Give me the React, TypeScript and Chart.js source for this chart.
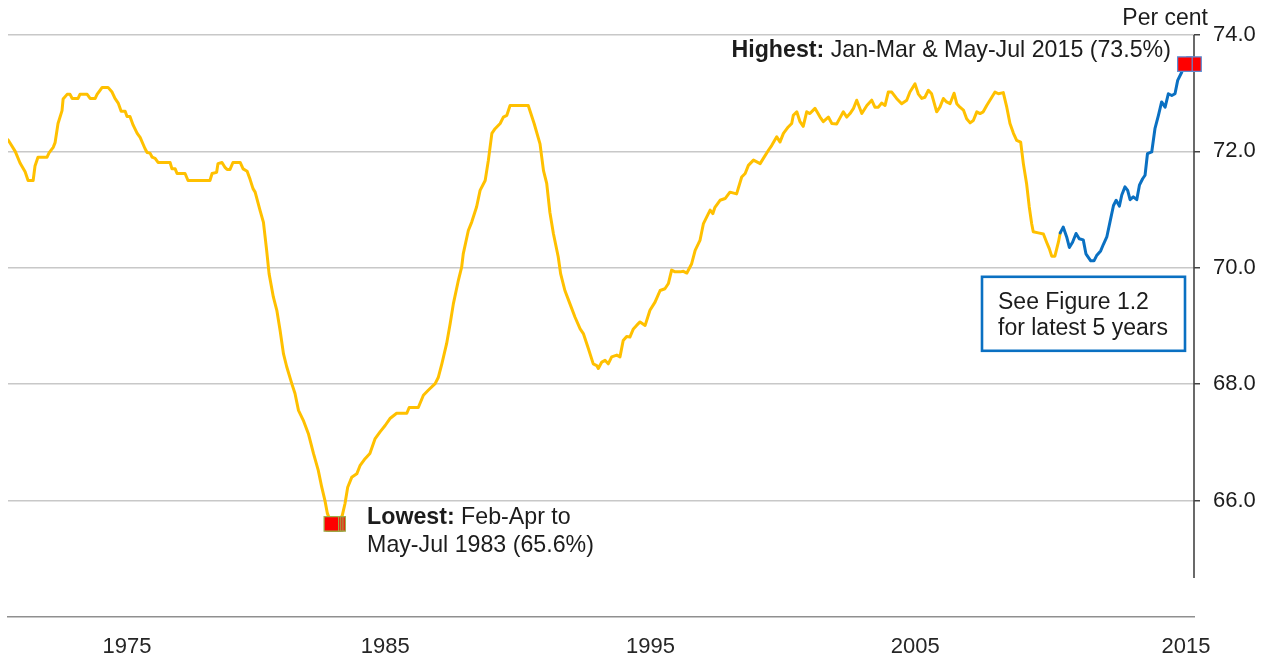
import React, { useEffect, useRef } from 'react';
import { Chart, registerables } from 'chart.js';

Chart.register(...registerables);

// Time is the central month of each rolling 3-month period, as a decimal year
// (Jan-Mar 1971 -> 1971.08, May-Jul 2015 -> 2015.42). Values: employment rate, per cent.
const yellowT = [
  1971.08, 1971.35, 1971.53, 1971.72, 1971.83, 1972.02, 1972.09, 1972.2, 1972.54, 1972.62,
  1972.77, 1972.84, 1972.95, 1973.1, 1973.14, 1973.29, 1973.4, 1973.48, 1973.7, 1973.77,
  1974.04, 1974.15, 1974.34, 1974.41, 1974.52, 1974.6, 1974.82, 1974.97, 1975.08, 1975.2,
  1975.31, 1975.46, 1975.53, 1975.64, 1975.76, 1975.91, 1976.02, 1976.2, 1976.28, 1976.39,
  1976.47, 1976.58, 1976.69, 1977.14, 1977.21, 1977.33, 1977.4, 1977.7, 1977.81, 1978.63,
  1978.71, 1978.88, 1978.93, 1979.08, 1979.2, 1979.27, 1979.38, 1979.49, 1979.76, 1979.87,
  1980.02, 1980.13, 1980.24, 1980.32, 1980.5, 1980.63, 1980.75, 1980.84, 1981.0, 1981.13,
  1981.25, 1981.38, 1981.5, 1981.69, 1981.81, 1981.94, 1982.12, 1982.31, 1982.5, 1982.68,
  1982.81, 1982.93, 1983.02, 1983.17, 1983.25, 1983.33, 1983.42, 1983.58, 1983.68, 1983.78,
  1983.93, 1984.12, 1984.24, 1984.43, 1984.61, 1984.8, 1984.99, 1985.18, 1985.36, 1985.61,
  1985.99, 1986.08, 1986.42, 1986.61, 1986.8, 1987.05, 1987.17, 1987.3, 1987.48, 1987.61,
  1987.73, 1987.92, 1988.04, 1988.1, 1988.29, 1988.42, 1988.6, 1988.73, 1988.92, 1989.04,
  1989.17, 1989.29, 1989.48, 1989.6, 1989.73, 1989.85, 1990.53, 1990.75, 1990.97, 1991.1,
  1991.22, 1991.34, 1991.47, 1991.65, 1991.74, 1991.9, 1992.09, 1992.28, 1992.47, 1992.59,
  1992.78, 1992.96, 1993.09, 1993.15, 1993.28, 1993.4, 1993.52, 1993.65, 1993.84, 1993.96,
  1994.08, 1994.21, 1994.33, 1994.46, 1994.58, 1994.71, 1994.9, 1995.08, 1995.27, 1995.46,
  1995.64, 1995.77, 1995.89, 1996.02, 1996.21, 1996.33, 1996.46, 1996.64, 1996.77, 1996.95,
  1997.08, 1997.2, 1997.33, 1997.43, 1997.51, 1997.7, 1997.89, 1998.07, 1998.32, 1998.51,
  1998.64, 1998.76, 1998.95, 1999.2, 1999.32, 1999.51, 1999.63, 1999.82, 1999.94, 2000.07,
  2000.25, 2000.38, 2000.44, 2000.57, 2000.69, 2000.81, 2000.94, 2001.06, 2001.25, 2001.44,
  2001.56, 2001.75, 2001.88, 2002.06, 2002.19, 2002.31, 2002.44, 2002.56, 2002.69, 2002.81,
  2003.0, 2003.19, 2003.37, 2003.49, 2003.62, 2003.74, 2003.87, 2003.99, 2004.12, 2004.3,
  2004.49, 2004.68, 2004.8, 2004.99, 2005.11, 2005.24, 2005.36, 2005.49, 2005.61, 2005.8,
  2005.92, 2006.05, 2006.17, 2006.3, 2006.45, 2006.55, 2006.67, 2006.8, 2006.92, 2007.05,
  2007.17, 2007.3, 2007.42, 2007.54, 2007.67, 2007.86, 2007.98, 2008.11, 2008.29, 2008.42,
  2008.54, 2008.67, 2008.79, 2008.94, 2009.04, 2009.16, 2009.26, 2009.35, 2009.41, 2009.6,
  2009.79, 2009.91, 2010.01, 2010.1, 2010.22, 2010.35, 2010.42,
];
const yellowV = [
  72.2, 72.0, 71.8, 71.65, 71.5, 71.5, 71.75, 71.9, 71.9, 71.98,
  72.07, 72.15, 72.48, 72.7, 72.9, 72.98, 72.98, 72.91, 72.91, 72.98,
  72.98, 72.91, 72.91, 72.98, 73.05, 73.1, 73.1, 73.02, 72.91, 72.83,
  72.69, 72.69, 72.6, 72.6, 72.45, 72.31, 72.24, 72.05, 71.98, 71.97,
  71.9, 71.88, 71.81, 71.81, 71.7, 71.7, 71.62, 71.62, 71.5, 71.5,
  71.62, 71.64, 71.79, 71.81, 71.72, 71.69, 71.69, 71.81, 71.81, 71.7,
  71.66, 71.52, 71.36, 71.3, 70.99, 70.78, 70.3, 69.9, 69.5, 69.27,
  68.93, 68.52, 68.3, 68.01, 67.84, 67.55, 67.38, 67.15, 66.81, 66.52,
  66.23, 66.0, 65.78, 65.6, 65.6, 65.6, 65.6, 65.75, 65.95, 66.23,
  66.4, 66.46, 66.6, 66.72, 66.81, 67.06, 67.18, 67.29, 67.41, 67.5,
  67.5, 67.6, 67.6, 67.81, 67.9, 68.01, 68.12, 68.35, 68.7, 69.04,
  69.38, 69.79, 70.01, 70.24, 70.64, 70.79, 71.05, 71.33, 71.5, 71.85,
  72.31, 72.39, 72.48, 72.59, 72.62, 72.79, 72.79, 72.48, 72.13, 71.67,
  71.45, 70.95, 70.59, 70.19, 69.9, 69.61, 69.38, 69.15, 68.95, 68.87,
  68.61, 68.35, 68.32, 68.27, 68.38, 68.41, 68.35, 68.47, 68.5, 68.47,
  68.75, 68.82, 68.81, 68.95, 69.01, 69.07, 69.01, 69.27, 69.41, 69.61,
  69.64, 69.73, 69.96, 69.93, 69.93, 69.94, 69.91, 70.07, 70.3, 70.47,
  70.76, 70.87, 70.99, 70.93, 71.04, 71.16, 71.19, 71.3, 71.27, 71.56,
  71.62, 71.76, 71.85, 71.79, 71.88, 72.02, 72.1, 72.25, 72.16, 72.31,
  72.42, 72.48, 72.62, 72.68, 72.51, 72.43, 72.68, 72.65, 72.74, 72.59,
  72.51, 72.59, 72.48, 72.47, 72.58, 72.68, 72.59, 72.65, 72.74, 72.88,
  72.65, 72.79, 72.88, 72.76, 72.76, 72.83, 72.79, 73.02, 73.02, 72.91,
  72.82, 72.88, 73.02, 73.16, 72.99, 72.91, 72.93, 73.05, 72.99, 72.68,
  72.76, 72.91, 72.85, 72.82, 73.0, 72.82, 72.76, 72.71, 72.56, 72.49,
  72.53, 72.68, 72.65, 72.68, 72.79, 72.93, 73.02, 72.99, 73.01, 72.76,
  72.48, 72.31, 72.19, 72.16, 71.79, 71.45, 71.05, 70.76, 70.62, 70.6,
  70.58, 70.44, 70.33, 70.2, 70.2, 70.44, 70.6,
];

// Latest 5 years (May-Jul 2010 to May-Jul 2015)
const blueT = [
  2010.42, 2010.53, 2010.66, 2010.76, 2010.88, 2011.01, 2011.13, 2011.28, 2011.38, 2011.56,
  2011.68, 2011.78, 2011.93, 2012.03, 2012.16, 2012.28, 2012.41, 2012.51, 2012.63, 2012.72,
  2012.84, 2012.94, 2013.03, 2013.15, 2013.28, 2013.38, 2013.5, 2013.59, 2013.68, 2013.84,
  2013.96, 2014.09, 2014.21, 2014.34, 2014.46, 2014.59, 2014.71, 2014.81, 2014.96, 2015.08,
  2015.17, 2015.25, 2015.33, 2015.42,
];
const blueV = [
  70.6, 70.7, 70.53, 70.35, 70.44, 70.59, 70.5, 70.48, 70.24, 70.12,
  70.12, 70.21, 70.29, 70.4, 70.53, 70.79, 71.07, 71.16, 71.06, 71.25,
  71.39, 71.33, 71.17, 71.22, 71.17, 71.42, 71.53, 71.59, 71.96, 71.99,
  72.39, 72.62, 72.85, 72.76, 72.99, 72.96, 72.99, 73.22, 73.36, 73.5,
  73.4, 73.4, 73.4, 73.5,
];

const xTickLabels = ['1975', '1985', '1995', '2005', '2015'];
const xTickAt = [1975.53, 1985.18, 1995.1, 2005.0, 2015.12];
const yTicks = [66, 68, 70, 72, 74];
const yMin = 64;
const yMax = 74;
const yAxisLineEnd = 64.67;

const FONT = '"Liberation Sans", Arial, Helvetica, sans-serif';
const GOLD = '#FFC000';
const BLUE = '#0A70C2';
const TEXT = '#1c1c1c';

export default function App() {
  const ref = useRef<HTMLCanvasElement | null>(null);

  useEffect(() => {
    if (!ref.current) return;
    const yellow = yellowT.map((t, i) => ({ x: t, y: yellowV[i] }));
    const blue = blueT.map((t, i) => ({ x: t, y: blueV[i] }));
    const lowV = Math.min(...yellowV);
    const highV = Math.max(...blueV);
    const low = yellow.filter((p) => p.y === lowV).reverse();
    const high = blue.filter((p) => p.y === highV).reverse();

    const annotations = {
      id: 'annotations',
      beforeDatasetsDraw(chart: any) {
        const { ctx, chartArea, scales } = chart;
        const y = scales.y;
        ctx.save();
        ctx.strokeStyle = '#444444';
        ctx.lineWidth = 1.6;
        ctx.beginPath();
        ctx.moveTo(chartArea.right, y.getPixelForValue(yMax));
        ctx.lineTo(chartArea.right, y.getPixelForValue(yAxisLineEnd));
        ctx.stroke();
        ctx.restore();
      },
      afterDraw(chart: any) {
        const { ctx, chartArea, scales } = chart;
        const x = scales.x;
        const y = scales.y;
        const bold = `bold 23.2px ${FONT}`;
        const reg = `23.2px ${FONT}`;
        ctx.save();
        ctx.fillStyle = TEXT;
        ctx.textBaseline = 'alphabetic';
        ctx.textAlign = 'left';

        // Per cent
        ctx.font = `23px ${FONT}`;
        ctx.textAlign = 'right';
        ctx.fillText('Per cent', chartArea.right + 14, y.getPixelForValue(yMax) - 10);
        ctx.textAlign = 'left';

        // Highest
        const hx = x.getPixelForValue(high[high.length - 1].x) - 14;
        const hy = y.getPixelForValue(highV) - 7;
        ctx.font = bold;
        const w1 = ctx.measureText('Highest:').width;
        ctx.font = reg;
        const rest = ' Jan-Mar & May-Jul 2015 (73.5%)';
        const w2 = ctx.measureText(rest).width;
        const hx0 = hx - w1 - w2;
        ctx.font = bold;
        ctx.fillText('Highest:', hx0, hy);
        ctx.font = reg;
        ctx.fillText(rest, hx0 + w1, hy);

        // Lowest
        const lx = x.getPixelForValue(low[0].x) + 29;
        const ly = y.getPixelForValue(lowV);
        ctx.font = bold;
        const lw = ctx.measureText('Lowest:').width;
        ctx.fillText('Lowest:', lx, ly);
        ctx.font = reg;
        ctx.fillText(' Feb-Apr to', lx + lw, ly);
        ctx.fillText('May-Jul 1983 (65.6%)', lx, ly + 28.5);

        // Box
        const bw = 203;
        const bh = 74;
        const bx = chartArea.right - 9 - bw;
        const by = y.getPixelForValue(70) + 9;
        ctx.fillStyle = '#ffffff';
        ctx.fillRect(bx, by, bw, bh);
        ctx.strokeStyle = BLUE;
        ctx.lineWidth = 2.6;
        ctx.strokeRect(bx, by, bw, bh);
        ctx.fillStyle = TEXT;
        ctx.font = `23px ${FONT}`;
        ctx.fillText('See Figure 1.2', bx + 16, by + 32);
        ctx.fillText('for latest 5 years', bx + 16, by + 58);
        ctx.restore();
      },
    };

    const chart = new Chart(ref.current, {
      type: 'line',
      data: {
        datasets: [
          {
            data: low,
            showLine: false,
            pointStyle: 'rect',
            pointRadius: 10.3,
            pointBackgroundColor: '#FF0000',
            pointBorderColor: '#9BAF4A',
            pointBorderWidth: 1.2,
            order: 0,
            clip: false,
          } as any,
          {
            data: high,
            showLine: false,
            pointStyle: 'rect',
            pointRadius: 10.3,
            pointBackgroundColor: '#FF0000',
            pointBorderColor: '#5B8ED6',
            pointBorderWidth: 1.2,
            order: 0,
            clip: false,
          } as any,
          {
            data: blue,
            borderColor: BLUE,
            borderWidth: 3,
            pointRadius: 0,
            tension: 0,
            borderJoinStyle: 'round',
            borderCapStyle: 'round',
            order: 1,
          } as any,
          {
            data: yellow,
            borderColor: GOLD,
            borderWidth: 3,
            pointRadius: 0,
            tension: 0,
            borderJoinStyle: 'round',
            borderCapStyle: 'round',
            order: 2,
          } as any,
        ],
      },
      options: {
        animation: false,
        responsive: false,
        events: [],
        layout: { autoPadding: false, padding: { left: 8, top: 35, right: 0, bottom: 0 } },
        plugins: { legend: { display: false }, tooltip: { enabled: false } },
        scales: {
          x: {
            type: 'linear',
            min: yellowT[0],
            max: blueT[blueT.length - 1],
            afterBuildTicks: (s: any) => {
              s.ticks = xTickAt.map((v) => ({ value: v }));
            },
            afterFit: (s: any) => {
              s.height = 46;
            },
            grid: { display: false, drawTicks: false },
            border: { display: true, color: '#8f8f8f', width: 1.5 },
            ticks: {
              autoSkip: false,
              maxRotation: 0,
              minRotation: 0,
              padding: 17,
              color: '#262626',
              font: { family: FONT, size: 22 },
              callback: (_v: any, i: number) => xTickLabels[i],
            },
          },
          y: {
            position: 'right',
            min: yMin,
            max: yMax,
            afterBuildTicks: (s: any) => {
              s.ticks = yTicks.map((v) => ({ value: v }));
            },
            afterFit: (s: any) => {
              s.width = 75;
            },
            grid: {
              color: '#c8c8c8',
              lineWidth: 1.5,
              tickColor: '#444444',
              tickLength: 6,
              tickWidth: 1.5,
            },
            border: { display: false },
            ticks: {
              padding: 13,
              color: TEXT,
              font: { family: FONT, size: 22 },
              callback: (v: any) => Number(v).toFixed(1),
            },
          },
        },
      } as any,
      plugins: [annotations],
    });

    return () => chart.destroy();
  }, []);

  return (
    <div style={{ position: 'absolute', left: 0, top: 0, width: 1269, height: 663, background: '#ffffff' }}>
      <canvas ref={ref} width={1269} height={663} style={{ display: 'block' }} />
    </div>
  );
}
